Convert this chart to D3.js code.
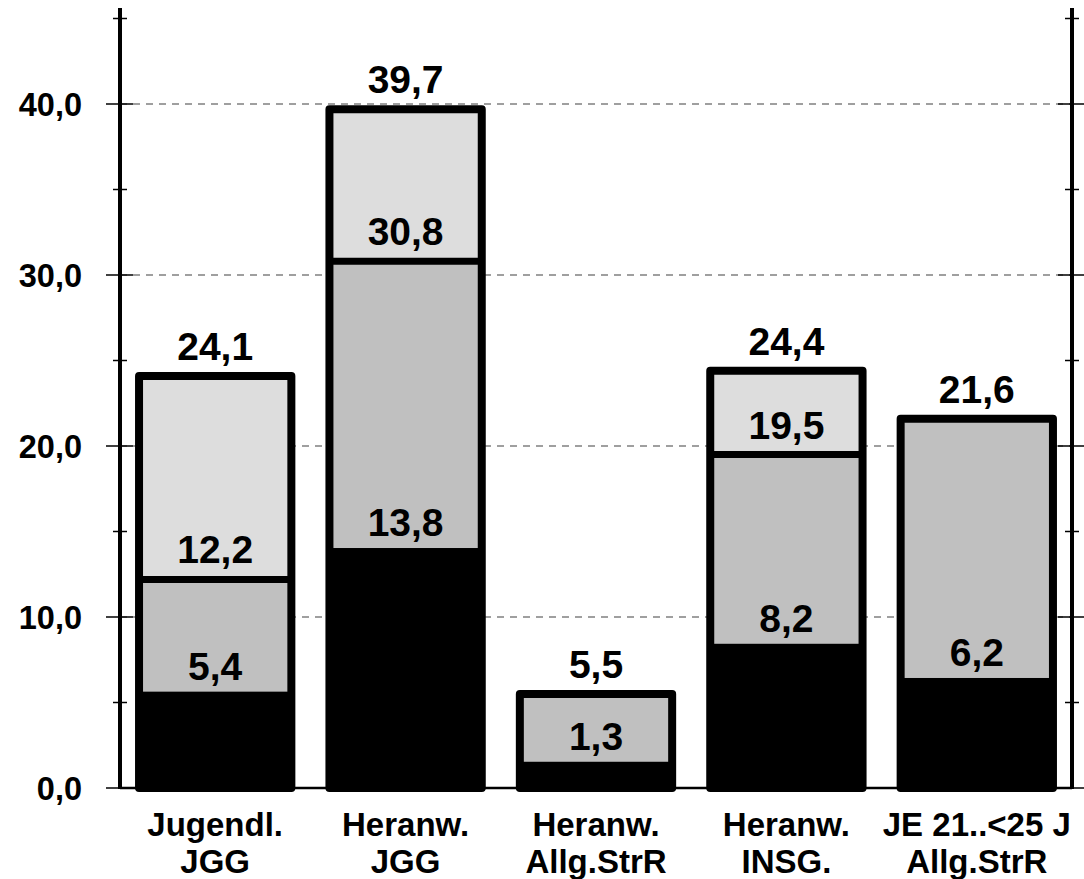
<!DOCTYPE html>
<html>
<head>
<meta charset="UTF-8">
<title>Chart</title>
<style>
    body { margin: 0; background: #fff; }
    text { font-family: "Liberation Sans", Arial, sans-serif; font-weight: bold; fill: #000; }
</style>
</head>
<body>
<svg width="1084" height="879"></svg>
<script src="https://d3js.org/d3.v7.min.js"></script>
<script>

    // data
    var categories = ["Jugendl.|JGG", "Heranw.|JGG", "Heranw.|Allg.StrR", "Heranw.|INSG.", "JE 21..<25 J|Allg.StrR"];
    var lowValues = [5.4, 13.8, 1.3, 8.2, 6.2];      // black part (cumulative)
    var midValues = [12.2, 30.8, 5.5, 19.5, 21.6];    // mid grey (cumulative)
    var topValues = [24.1, 39.7, null, 24.4, null];   // light grey (cumulative)
    var tickValues = [0, 10, 20, 30, 40];
    var minorTicks = [5, 15, 25, 35, 45];

    var svg = d3.select("svg"),
        left = 120, right = 1072;

    var x = d3.scaleBand()
        .domain(categories)
        .range([left, right])
        .paddingInner(0.2)
        .paddingOuter(0.1);

    var y = d3.scaleLinear()
        .domain([0, 40])
        .range([788, 104]);

    var fmt = function (v) { return d3.format(".1f")(v).replace(".", ","); };

    // grid lines
    svg.append("g").selectAll("line")
        .data(tickValues.slice(1))
        .enter().append("line")
        .attr("x1", left).attr("x2", right)
        .attr("y1", function (d) { return y(d); })
        .attr("y2", function (d) { return y(d); })
        .attr("stroke", "#808080")
        .attr("stroke-width", 1.5)
        .attr("stroke-dasharray", "7,6");

    // bars
    var bar = svg.append("g").selectAll("g")
        .data(categories)
        .enter().append("g");

    bar.each(function (c, i) {
        var g = d3.select(this),
            bx = x(c), bw = x.bandwidth(),
            total = topValues[i] != null ? topValues[i] : midValues[i];

        if (topValues[i] != null) {
            g.append("rect")
                .attr("x", bx).attr("width", bw)
                .attr("y", y(topValues[i]))
                .attr("height", y(midValues[i]) - y(topValues[i]))
                .attr("fill", "#dddddd");
        }
        g.append("rect")
            .attr("x", bx).attr("width", bw)
            .attr("y", y(midValues[i]))
            .attr("height", y(lowValues[i]) - y(midValues[i]))
            .attr("fill", "#c0c0c0");
        g.append("rect")
            .attr("x", bx).attr("width", bw)
            .attr("y", y(lowValues[i]) - 4)
            .attr("height", y(0) - y(lowValues[i]) + 4)
            .attr("fill", "#000");

        if (topValues[i] != null) {
            g.append("line")
                .attr("x1", bx).attr("x2", bx + bw)
                .attr("y1", y(midValues[i])).attr("y2", y(midValues[i]))
                .attr("stroke", "#000").attr("stroke-width", 7);
        }

        // outline
        g.append("rect")
            .attr("x", bx).attr("width", bw)
            .attr("y", y(total))
            .attr("height", y(0) - y(total))
            .attr("fill", "none")
            .attr("stroke", "#000")
            .attr("stroke-width", 8)
            .attr("stroke-linejoin", "round");

        // value labels
        [lowValues[i], midValues[i], topValues[i]].forEach(function (v) {
            if (v == null) return;
            g.append("text")
                .attr("x", bx + bw / 2)
                .attr("y", y(v) - 16)
                .attr("text-anchor", "middle")
                .style("font-size", "39px")
                .text(fmt(v));
        });
    });

    // baseline
    svg.append("line")
        .attr("x1", left).attr("x2", right)
        .attr("y1", y(0)).attr("y2", y(0))
        .attr("stroke", "#000").attr("stroke-width", 2.5);

    // axes
    [left, right].forEach(function (ax) {
        svg.append("line")
            .attr("x1", ax).attr("x2", ax)
            .attr("y1", 8).attr("y2", y(0) + 1)
            .attr("stroke", "#000").attr("stroke-width", 4);

        svg.append("g").selectAll("line")
            .data(tickValues)
            .enter().append("line")
            .attr("x1", ax - 14).attr("x2", ax + 13)
            .attr("y1", function (d) { return y(d); })
            .attr("y2", function (d) { return y(d); })
            .attr("stroke", "#000").attr("stroke-width", 1.5);

        svg.append("g").selectAll("line")
            .data(minorTicks)
            .enter().append("line")
            .attr("x1", ax - 7).attr("x2", ax + 7)
            .attr("y1", function (d) { return y(d); })
            .attr("y2", function (d) { return y(d); })
            .attr("stroke", "#000").attr("stroke-width", 1.5);
    });

    // y tick labels
    svg.append("g").selectAll("text")
        .data(tickValues)
        .enter().append("text")
        .attr("x", 82)
        .attr("y", function (d) { return y(d) + 12; })
        .attr("text-anchor", "end")
        .style("font-size", "32.5px")
        .text(fmt);

    // category labels
    var cat = svg.append("g").selectAll("text")
        .data(categories)
        .enter().append("text")
        .attr("text-anchor", "middle")
        .style("font-size", "33px");

    cat.each(function (c) {
        var t = d3.select(this), lines = c.split("|");
        lines.forEach(function (l, k) {
            t.append("tspan")
                .attr("x", x(c) + x.bandwidth() / 2)
                .attr("y", 836 + k * 37)
                .text(l);
        });
    });

</script>
</body>
</html>
